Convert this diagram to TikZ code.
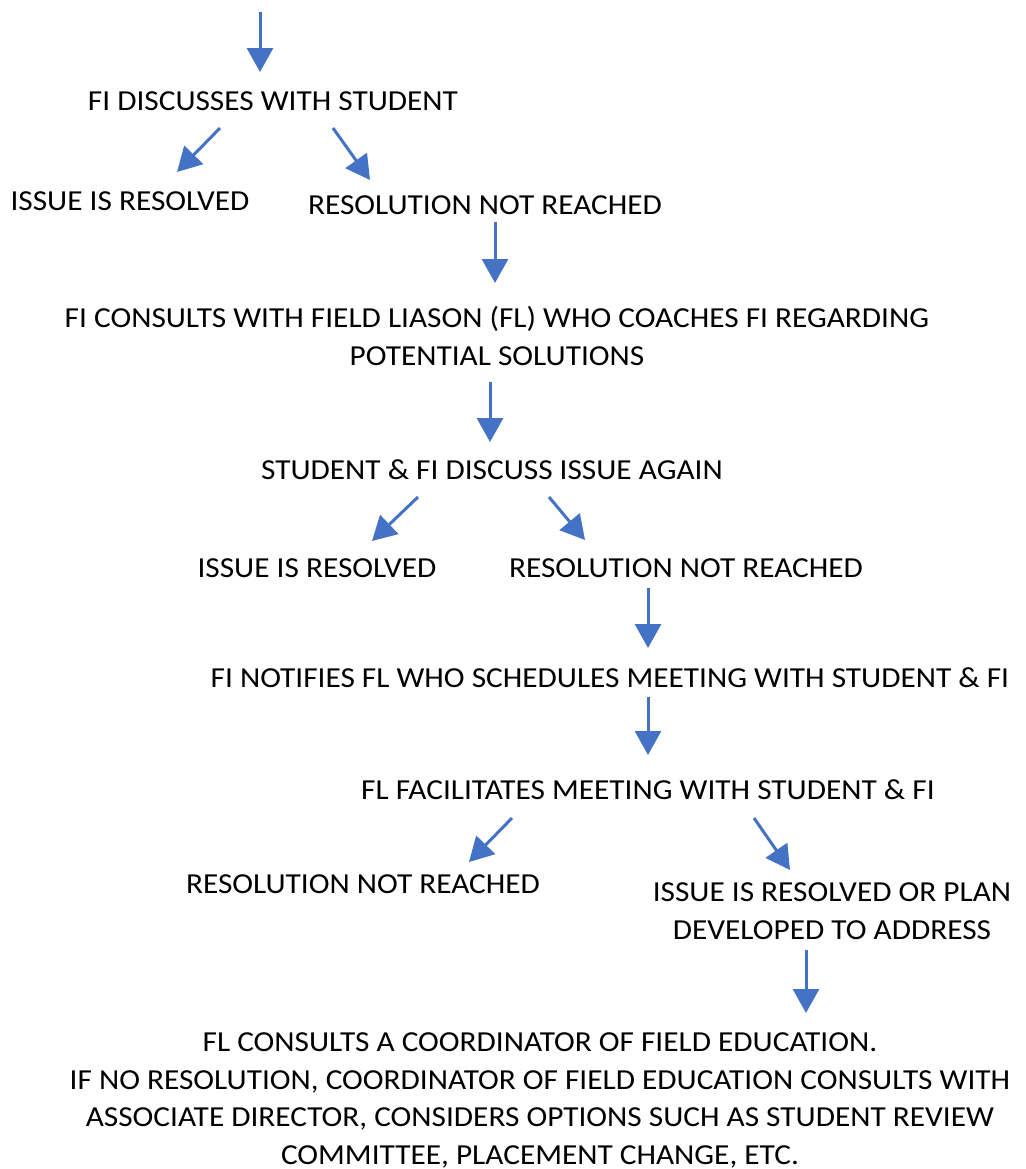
\documentclass[tikz,border=0pt]{standalone}
\usepackage{fontspec}
\setmainfont{Carlito}[FakeStretch=1.08]
\usetikzlibrary{arrows.meta}
\definecolor{flowblue}{HTML}{4472C4}

\begin{document}
\begin{tikzpicture}[
      x=0.5pt, y=-0.5pt,
      every node/.style={inner sep=0pt, anchor=base, align=center,
        font=\fontsize{14.5}{18.75}\selectfont},
      flow/.style={draw=flowblue, line width=1.5pt,
        -{Triangle[length=12pt, width=13pt]}}
    ]
      \useasboundingbox (0,0) rectangle (1026,1169);

      % steps
      \coordinate (start) at (260,12);
      \node (disc)    at (273,110)  {FI DISCUSSES WITH STUDENT};
      \node (res1)    at (130,210)  {ISSUE IS RESOLVED};
      \node (nr1)     at (485,214)  {RESOLUTION NOT REACHED};
      \node (consult) at (497,365)  {FI CONSULTS WITH FIELD LIASON (FL) WHO COACHES FI REGARDING\\POTENTIAL SOLUTIONS};
      \node (again)   at (492,479)  {STUDENT \& FI DISCUSS ISSUE AGAIN};
      \node (res2)    at (317,577)  {ISSUE IS RESOLVED};
      \node (nr2)     at (686,577)  {RESOLUTION NOT REACHED};
      \node (notify)  at (610,687)  {FI NOTIFIES FL WHO SCHEDULES MEETING WITH STUDENT \& FI};
      \node (facil)   at (648,799)  {FL FACILITATES MEETING WITH STUDENT \& FI};
      \node (nr3)     at (363,893)  {RESOLUTION NOT REACHED};
      \node (plan)    at (832,939)  {ISSUE IS RESOLVED OR PLAN\\DEVELOPED TO ADDRESS};
      \node (final)   at (540,1164) {FL CONSULTS A COORDINATOR OF FIELD EDUCATION.\\
        IF NO RESOLUTION, COORDINATOR OF FIELD EDUCATION CONSULTS WITH\\
        ASSOCIATE DIRECTOR, CONSIDERS OPTIONS SUCH AS STUDENT REVIEW\\
        COMMITTEE, PLACEMENT CHANGE, ETC.};

      % arrows
      \draw[flow] (start) -- ([shift={(-13,-38)}]disc.base);
      \draw[flow] ([shift={(-53,18)}]disc.base) -- ([shift={(47,-38)}]res1.base);
      \draw[flow] ([shift={(60,18)}]disc.base) -- ([shift={(-115,-34)}]nr1.base);
      \draw[flow] ([shift={(10,8)}]nr1.base) -- ([shift={(-2,-82)}]consult.base);
      \draw[flow] ([shift={(-7,17)}]consult.base) -- ([shift={(-2,-37)}]again.base);
      \draw[flow] ([shift={(-74,18)}]again.base) -- ([shift={(55,-36)}]res2.base);
      \draw[flow] ([shift={(57,18)}]again.base) -- ([shift={(-101,-37)}]nr2.base);
      \draw[flow] ([shift={(-38,11)}]nr2.base) -- ([shift={(38,-39)}]notify.base);
      \draw[flow] ([shift={(38,10)}]notify.base) -- ([shift={(0,-44)}]facil.base);
      \draw[flow] ([shift={(-136,19)}]facil.base) -- ([shift={(106,-31)}]nr3.base);
      \draw[flow] ([shift={(106,19)}]facil.base) -- ([shift={(-42,-69)}]plan.base);
      \draw[flow] ([shift={(-26,11)}]plan.base) -- ([shift={(266,-151)}]final.base);
    \end{tikzpicture}
\end{document}
